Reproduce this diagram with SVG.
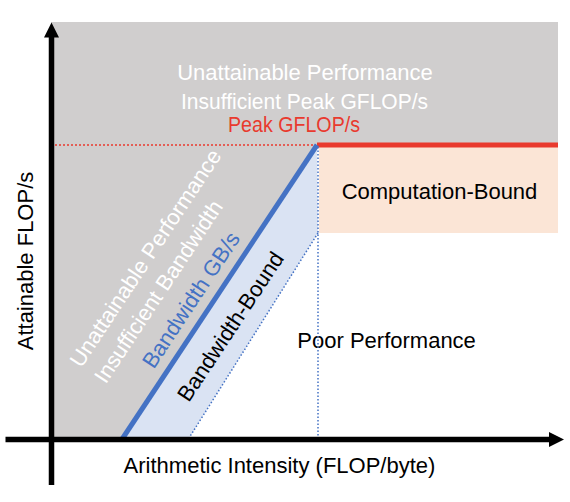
<svg xmlns="http://www.w3.org/2000/svg" width="570" height="502" viewBox="0 0 570 502">
<style>
text{font-family:"Liberation Sans",Arial,sans-serif;font-size:22px;text-anchor:middle}
.w{fill:#ffffff}
.k{fill:#000000}
.b{fill:#4472c4}
.r{fill:#e93a2e}
</style>
<rect width="570" height="502" fill="#ffffff"/>
<g id="unattainable-region">
<polygon points="51,22 558,22 558,145 317,145 121,438 51,438" fill="#d0cece"/>
<text class="w" x="305" y="80">Unattainable Performance</text>
<text class="w" x="304.5" y="108.5" textLength="247" lengthAdjust="spacingAndGlyphs">Insufficient Peak GFLOP/s</text>
<g transform="translate(151.8,262.1) rotate(-56.5)"><text class="w" x="0" y="0" font-size="21.5">Unattainable Performance</text></g>
<g transform="translate(164.8,295.6) rotate(-56.5)"><text class="w" x="0" y="0" font-size="21.5">Insufficient Bandwidth</text></g>
</g>
<g id="bandwidth-bound">
<polygon points="317,145 318,233 189,438 121,438" fill="#dae3f3"/>
<g transform="translate(236.8,330.6) rotate(-56.5)"><text class="k" x="0" y="0" font-size="21">Bandwidth-Bound</text></g>
</g>
<g id="computation-bound">
<rect x="319" y="147" width="239" height="86" fill="#fbe5d6"/>
<text class="k" x="439.5" y="199">Computation-Bound</text>
</g>
<g id="poor-performance">
<text class="k" x="386.6" y="347.5" font-size="21.5">Poor Performance</text>
</g>
<g id="connectors">
<line x1="55" y1="145" x2="316" y2="145" stroke="#e93a2e" stroke-width="1.5" stroke-dasharray="2 2"/>
<line x1="318" y1="147" x2="318" y2="437" stroke="#4472c4" stroke-width="1.5" stroke-dasharray="1.5 2"/>
<line x1="318" y1="233" x2="189" y2="438" stroke="#4472c4" stroke-width="1.5" stroke-dasharray="1.5 2"/>
<line x1="317" y1="145" x2="558" y2="145" stroke="#e93a2e" stroke-width="5"/>
<line x1="317" y1="145" x2="121.5" y2="440" stroke="#4472c4" stroke-width="5"/>
<line x1="51.5" y1="485" x2="51.5" y2="36" stroke="#000" stroke-width="5.5"/>
<polygon points="51.5,22.5 44,37.5 59,37.5" fill="#000"/>
<line x1="5.5" y1="439.5" x2="550" y2="439.5" stroke="#000" stroke-width="5.5"/>
<polygon points="564,439.5 549,432 549,447" fill="#000"/>
</g>
<g id="labels">
<text class="r" x="294" y="132" font-size="20" textLength="132" lengthAdjust="spacingAndGlyphs">Peak GFLOP/s</text>
<g transform="translate(197.3,304.1) rotate(-56.5)"><text class="b" x="0" y="0" font-size="21">Bandwidth GB/s</text></g>
<text class="k" x="279.5" y="473">Arithmetic Intensity (FLOP/byte)</text>
<g transform="translate(33,261) rotate(-90)"><text class="k" x="0" y="0">Attainable FLOP/s</text></g>
</g>
</svg>
